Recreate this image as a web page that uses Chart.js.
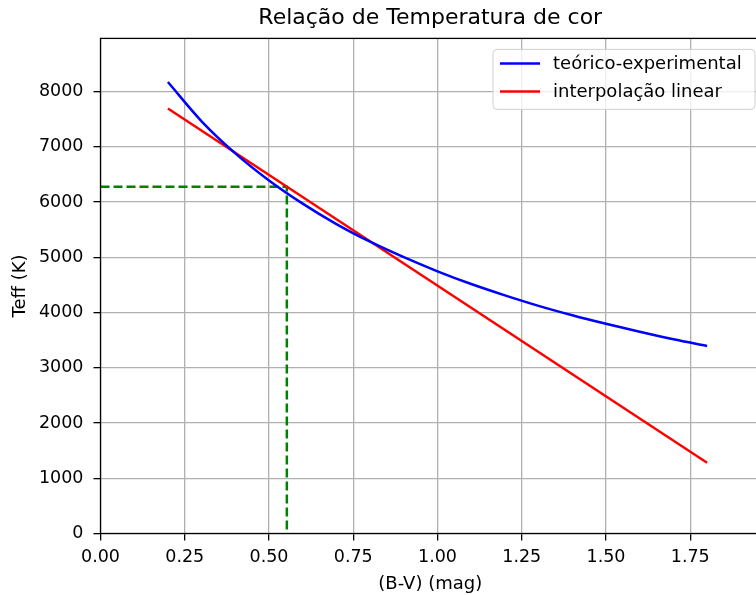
<!DOCTYPE html>
<html>
<head>
<meta charset="utf-8">
<script src="https://cdn.jsdelivr.net/npm/chart.js@4"></script>
<style>
    html, body { margin: 0; padding: 0; overflow: hidden; background: #fff; }
    #wrap { position: absolute; left: 0; top: 0; width: 770px; height: 595px; }
</style>
</head>
<body>
<div id="wrap"><canvas id="chart"></canvas></div>
<script>
// values
const bvValues = [0.2, 0.3, 0.4, 0.5, 0.6, 0.7, 0.8, 0.9, 1.0, 1.1, 1.2, 1.3, 1.4, 1.5, 1.6, 1.7, 1.8];
const teffTeorico = [8170, 7460, 6880, 6390, 5970, 5600, 5280, 5000, 4745, 4515, 4310, 4120, 3950, 3795, 3650, 3515, 3395];
const bvLinear = [0.2, 1.8];
const teffLinear = [7690, 1280];
const markBV = [0, 0.553, 0.553];
const markTeff = [6275, 6275, 0];

const seriesLabels = ['teórico-experimental', 'interpolação linear'];
const xTicks = [0, 0.25, 0.5, 0.75, 1.0, 1.25, 1.5, 1.75];
const yTicks = [0, 1000, 2000, 3000, 4000, 5000, 6000, 7000, 8000];

const FONT = 'DejaVu Sans';

function toPoints(xs, ys) {
    return xs.map((x, i) => ({ x: x, y: ys[i] }));
}

// matplotlib-style legend inside the axes + full frame
const axesExtras = {
    id: 'axesExtras',
    afterDatasetsDraw(chart) {
        const ctx = chart.ctx;
        const ca = chart.chartArea;
        ctx.save();
        ctx.strokeStyle = '#000';
        ctx.lineWidth = 1.3;
        ctx.strokeRect(ca.left, ca.top, ca.right - ca.left, ca.bottom - ca.top);

        // legend
        const items = chart.data.datasets.filter(d => d.showInLegend);
        const boxRight = ca.right - 5;
        const boxLeft = 493;
        const boxTop = ca.top + 11;
        const boxH = 60;
        const r = 4;
        ctx.beginPath();
        ctx.moveTo(boxLeft + r, boxTop);
        ctx.arcTo(boxRight, boxTop, boxRight, boxTop + boxH, r);
        ctx.arcTo(boxRight, boxTop + boxH, boxLeft, boxTop + boxH, r);
        ctx.arcTo(boxLeft, boxTop + boxH, boxLeft, boxTop, r);
        ctx.arcTo(boxLeft, boxTop, boxRight, boxTop, r);
        ctx.closePath();
        ctx.fillStyle = 'rgba(255,255,255,0.8)';
        ctx.fill();
        ctx.strokeStyle = '#d0d0d0';
        ctx.lineWidth = 1;
        ctx.stroke();

        ctx.font = '18px "' + FONT + '"';
        ctx.textBaseline = 'middle';
        ctx.textAlign = 'left';
        items.forEach((d, i) => {
            const y = boxTop + 14 + i * 28;
            ctx.beginPath();
            ctx.moveTo(boxLeft + 7, y);
            ctx.lineTo(boxLeft + 47, y);
            ctx.strokeStyle = d.borderColor;
            ctx.lineWidth = 2.5;
            ctx.stroke();
            ctx.fillStyle = '#000';
            ctx.fillText(d.label, boxLeft + 60, y + 1);
        });
        ctx.restore();
    }
};

new Chart(document.getElementById('chart'), {
    type: 'line',
    data: {
        datasets: [
            {
                label: seriesLabels[0],
                data: toPoints(bvValues, teffTeorico),
                borderColor: '#0000ff',
                borderWidth: 2.5,
                pointRadius: 0,
                cubicInterpolationMode: 'monotone',
                showInLegend: true
            },
            {
                label: seriesLabels[1],
                data: toPoints(bvLinear, teffLinear),
                borderColor: '#ff0000',
                borderWidth: 2.5,
                pointRadius: 0,
                showInLegend: true
            },
            {
                label: 'marca',
                data: toPoints(markBV, markTeff),
                borderColor: '#008000',
                borderWidth: 2.5,
                borderDash: [9, 4],
                pointRadius: 0,
                showInLegend: false
            }
        ]
    },
    options: {
        responsive: true,
        maintainAspectRatio: false,
        animation: false,
        events: [],
        layout: { padding: { left: 0, right: 10, top: 0, bottom: 0 } },
        plugins: {
            legend: { display: false },
            tooltip: { enabled: false },
            title: {
                display: true,
                text: 'Relação de Temperatura de cor',
                fullSize: false,
                color: '#000',
                font: { family: FONT, size: 22, weight: 'normal' },
                padding: { top: 5, bottom: 7 }
            }
        },
        scales: {
            x: {
                type: 'linear',
                min: 0,
                max: 1.957,
                afterBuildTicks: scale => { scale.ticks = xTicks.map(v => ({ value: v })); },
                afterFit: scale => { scale.height = 61.5; },
                ticks: {
                    color: '#000',
                    font: { family: FONT, size: 17.5 },
                    padding: 6,
                    maxRotation: 0,
                    callback: v => v.toFixed(2)
                },
                grid: { color: '#b0b0b0', lineWidth: 1.3, tickColor: '#000', tickLength: 7, tickWidth: 1.3 },
                border: { display: false },
                title: {
                    display: true,
                    text: '(B-V) (mag)',
                    color: '#000',
                    font: { family: FONT, size: 18 },
                    padding: { top: 0, bottom: 0 }
                }
            },
            y: {
                type: 'linear',
                min: 0,
                max: 8960,
                afterBuildTicks: scale => { scale.ticks = yTicks.map(v => ({ value: v })); },
                afterFit: scale => { scale.width = 100.5; },
                ticks: {
                    color: '#000',
                    font: { family: FONT, size: 17.5 },
                    padding: 10,
                    callback: v => String(v)
                },
                grid: { color: '#b0b0b0', lineWidth: 1.3, tickColor: '#000', tickLength: 7, tickWidth: 1.3 },
                border: { display: false },
                title: {
                    display: true,
                    text: 'Teff (K)',
                    color: '#000',
                    font: { family: FONT, size: 18 },
                    padding: { top: 10, bottom: 0 }
                }
            }
        }
    },
    plugins: [axesExtras]
});
</script>
</body>
</html>
